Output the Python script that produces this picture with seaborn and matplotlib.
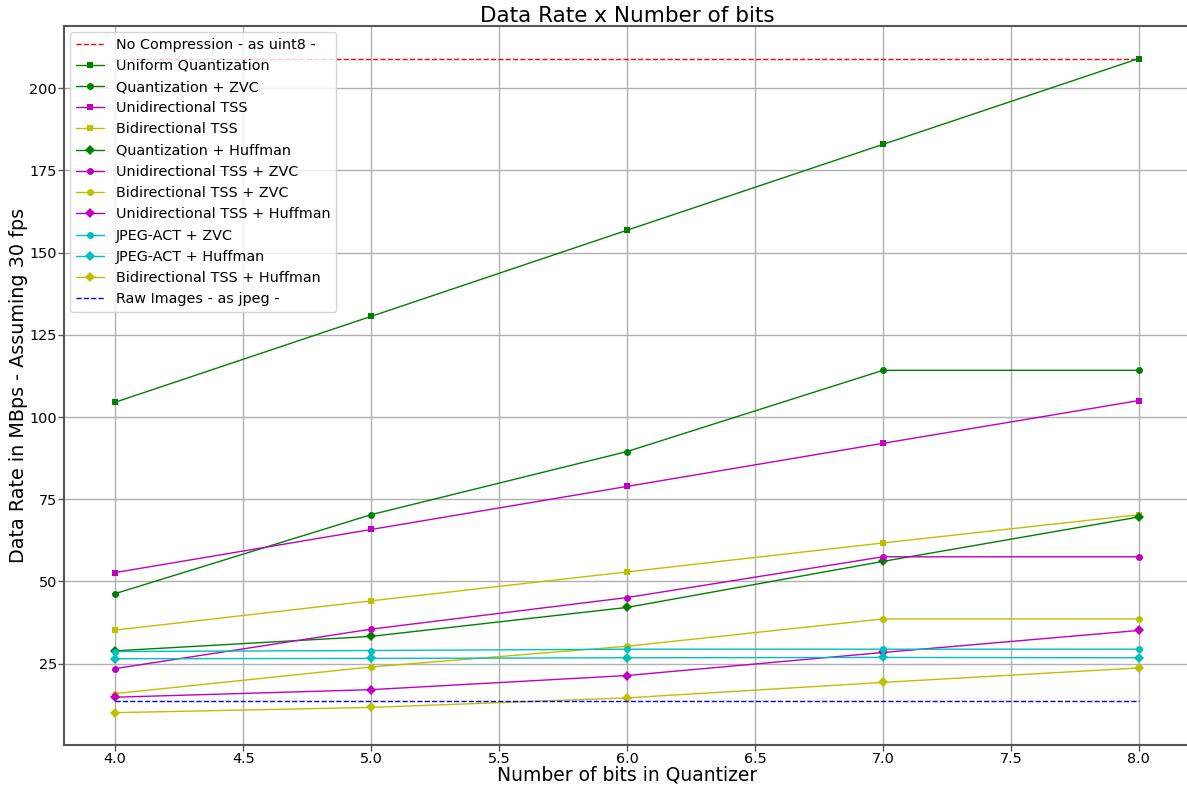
import matplotlib
matplotlib.use("Agg")
import matplotlib.pyplot as plt
import seaborn as sns
import pandas as pd

bits = [4, 5, 6, 7, 8]

no_compression = [209.0, 209.0, 209.0, 209.0, 209.0]
uniform_quant = [104.5, 130.6, 156.8, 182.9, 209.0]
quant_zvc = [46.3, 70.3, 89.5, 114.2, 114.2]
uni_tss = [52.7, 65.8, 78.9, 92.0, 105.0]
bi_tss = [35.2, 44.1, 52.9, 61.7, 70.3]
quant_huffman = [28.9, 33.3, 42.1, 56.1, 69.6]
uni_tss_zvc = [23.5, 35.5, 45.1, 57.5, 57.5]
bi_tss_zvc = [15.9, 24.0, 30.3, 38.6, 38.6]
uni_tss_huffman = [14.8, 17.1, 21.4, 28.4, 35.1]
jpeg_act_zvc = [28.7, 29.0, 29.4, 29.4, 29.4]
jpeg_act_huffman = [26.5, 26.6, 26.8, 26.9, 26.8]
bi_tss_huffman = [10.1, 11.7, 14.6, 19.3, 23.7]
raw_jpeg = [13.7, 13.7, 13.7, 13.7, 13.7]

series = [
    ("No Compression - as uint8 -", no_compression, "r", None, "--"),
    ("Uniform Quantization", uniform_quant, "g", "s", "-"),
    ("Quantization + ZVC", quant_zvc, "g", "o", "-"),
    ("Unidirectional TSS", uni_tss, "m", "s", "-"),
    ("Bidirectional TSS", bi_tss, "y", "s", "-"),
    ("Quantization + Huffman", quant_huffman, "g", "D", "-"),
    ("Unidirectional TSS + ZVC", uni_tss_zvc, "m", "o", "-"),
    ("Bidirectional TSS + ZVC", bi_tss_zvc, "y", "o", "-"),
    ("Unidirectional TSS + Huffman", uni_tss_huffman, "m", "D", "-"),
    ("JPEG-ACT + ZVC", jpeg_act_zvc, "c", "o", "-"),
    ("JPEG-ACT + Huffman", jpeg_act_huffman, "c", "D", "-"),
    ("Bidirectional TSS + Huffman", bi_tss_huffman, "y", "D", "-"),
    ("Raw Images - as jpeg -", raw_jpeg, "b", None, "--"),
]

sns.set_style("whitegrid", {"axes.edgecolor": "#555555", "grid.color": "#b0b0b0"})
plt.rcParams["font.family"] = ["DejaVu Sans"]
plt.rcParams["text.color"] = "black"
plt.rcParams["axes.labelcolor"] = "black"
plt.rcParams["xtick.color"] = "#555555"
plt.rcParams["ytick.color"] = "#555555"
plt.rcParams["xtick.labelcolor"] = "black"
plt.rcParams["ytick.labelcolor"] = "black"

fig = plt.figure(figsize=(11.87, 7.89), dpi=100)
ax = fig.add_axes([64 / 1187, 1 - 745 / 789, (1190 - 64) / 1187, (745 - 26) / 789])

for name, vals, color, marker, ls in series:
    df = pd.DataFrame({"bits": bits, "rate": vals})
    sns.lineplot(data=df, x="bits", y="rate", ax=ax, color=color, marker=marker,
                 markersize=5, markeredgewidth=0, linestyle=ls, linewidth=1,
                 label=name)

ax.set_xlim(3.8, 8.2)
ax.set_ylim(0.27, 218.9)
ax.set_title("Data Rate x Number of bits", fontsize=15.5, pad=3)
ax.set_xlabel("Number of bits in Quantizer", fontsize=13.5, labelpad=0)
ax.set_ylabel("Data Rate in MBps - Assuming 30 fps", fontsize=13.8, labelpad=1)
ax.tick_params(axis="both", labelsize=10.4, length=4, width=1,
               left=True, bottom=True, pad=1)
ax.grid(True, color="#b0b0b0", linewidth=1)
for side in ["left", "bottom", "top", "right"]:
    ax.spines[side].set_linewidth(1.5)
    ax.spines[side].set_color("#555555")

leg = ax.legend(loc="upper left", fontsize=10.4, frameon=True, borderaxespad=0.4)
leg.get_frame().set_edgecolor("#cccccc")

fig.savefig("out.png", dpi=100)
